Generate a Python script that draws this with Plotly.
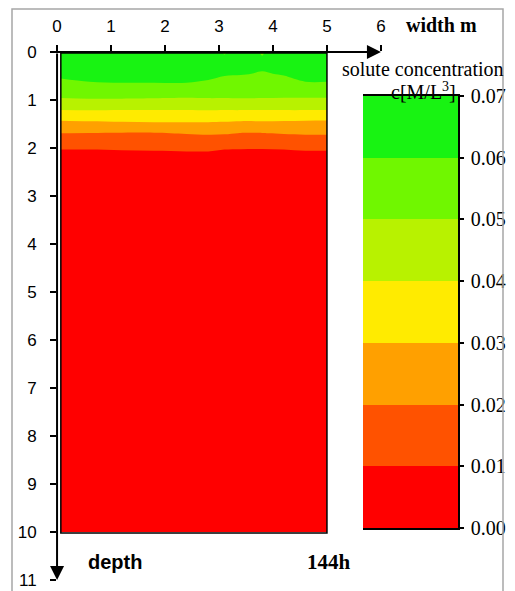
import plotly.graph_objects as go

# the page puts the figure 8px from the window's top-left corner
OFF = 8
W, H = 515 - OFF, 591 - OFF

# ---------------- data ----------------
width_ticks = [0, 1, 2, 3, 4, 5, 6]
depth_ticks = [0, 1, 2, 3, 4, 5, 6, 7, 8, 9, 10, 11]

# sampling positions of the concentration field (m)
xs = [0.07, 0.6, 1.2, 1.8, 2.4, 2.8, 3.1, 3.4, 3.8, 4.2, 4.6, 5.0]
ds = [0.02, 0.25, 0.45, 0.65, 0.96, 1.21, 1.44, 1.69, 2.03, 3.0, 10.0]

# solute concentration c [M/L^3] at 144h, rows = depths, cols = widths
conc = [
    [0.0640, 0.0660, 0.0660, 0.0660, 0.0660, 0.0650, 0.0595, 0.0640, 0.0595, 0.0650, 0.0660, 0.0660],
    [0.0640, 0.0650, 0.0650, 0.0650, 0.0650, 0.0640, 0.0630, 0.0625, 0.0615, 0.0630, 0.0640, 0.0640],
    [0.0615, 0.0625, 0.0630, 0.0630, 0.0630, 0.0620, 0.0605, 0.0605, 0.0595, 0.0605, 0.0625, 0.0625],
    [0.0585, 0.0595, 0.0598, 0.0598, 0.0598, 0.0590, 0.0585, 0.0570, 0.0560, 0.0580, 0.0595, 0.0595],
    [0.0500, 0.0505, 0.0505, 0.0502, 0.0498, 0.0500, 0.0500, 0.0502, 0.0500, 0.0498, 0.0497, 0.0497],
    [0.0400, 0.0402, 0.0400, 0.0398, 0.0400, 0.0402, 0.0400, 0.0400, 0.0398, 0.0400, 0.0400, 0.0398],
    [0.0295, 0.0300, 0.0305, 0.0310, 0.0310, 0.0308, 0.0305, 0.0300, 0.0300, 0.0298, 0.0295, 0.0295],
    [0.0200, 0.0198, 0.0196, 0.0195, 0.0205, 0.0210, 0.0208, 0.0198, 0.0198, 0.0205, 0.0210, 0.0210],
    [0.0100, 0.0100, 0.0101, 0.0102, 0.0103, 0.0103, 0.0100, 0.0098, 0.0097, 0.0100, 0.0102, 0.0102],
    [0.0030, 0.0030, 0.0030, 0.0030, 0.0030, 0.0030, 0.0030, 0.0030, 0.0030, 0.0030, 0.0030, 0.0030],
    [0.0005, 0.0005, 0.0005, 0.0005, 0.0005, 0.0005, 0.0005, 0.0005, 0.0005, 0.0005, 0.0005, 0.0005],
]

levels = [0.00, 0.01, 0.02, 0.03, 0.04, 0.05, 0.06, 0.07]
level_labels = ["0.00", "0.01", "0.02", "0.03", "0.04", "0.05", "0.06", "0.07"]
band_colors = ["#FF0000", "#FF5200", "#FFA000", "#FFEB00", "#B8F200", "#70F700", "#18F312"]

# ---------------- helpers ----------------
def px(p):
    return (p - OFF) / W


def py(p):
    return 1 - (p - OFF) / H


zmin, zmax = levels[0], levels[-1]
n = len(band_colors)
colorscale = []
for i, c in enumerate(band_colors):
    colorscale.append([i / n, c])
    colorscale.append([(i + 1) / n, c])

SANS = "Liberation Sans, Arial, sans-serif"
SERIF = "Liberation Serif, Times New Roman, serif"

fig = go.Figure()

fig.add_trace(go.Contour(
    x=xs, y=ds, z=conc,
    colorscale=colorscale, zmin=zmin, zmax=zmax, zauto=False,
    contours=dict(start=levels[1], end=levels[-2], size=levels[1] - levels[0],
                  coloring="fill", showlines=False),
    line=dict(width=0, smoothing=1),
    showscale=False, hoverinfo="skip",
    xaxis="x", yaxis="y",
))

# colour legend bar drawn as a one-column heatmap
mids = [[(levels[i] + levels[i + 1]) / 2] for i in range(len(levels) - 1)]
fig.add_trace(go.Heatmap(
    x=[0, 1], y=levels, z=mids,
    colorscale=colorscale, zmin=zmin, zmax=zmax,
    showscale=False, hoverinfo="skip",
    xaxis="x2", yaxis="y2",
))

fig.update_layout(
    width=W, height=H,
    margin=dict(l=0, r=0, t=0, b=0, autoexpand=False),
    paper_bgcolor="white", plot_bgcolor="rgba(0,0,0,0)",
    showlegend=False,
    xaxis=dict(
        domain=[px(57), px(381)], range=[-0.001, 6.001], side="top",
        tickvals=width_ticks, ticktext=[str(v) for v in width_ticks],
        ticks="outside", ticklen=6, tickwidth=1.5, tickcolor="black",
        showgrid=False, zeroline=False, showline=False, automargin=False,
        tickfont=dict(family=SANS, size=17, color="black"),
        ticklabelstandoff=6, anchor="y", fixedrange=True,
    ),
    yaxis=dict(
        domain=[py(580), py(52)], range=[11.001, -0.001],
        tickvals=depth_ticks, ticktext=[str(v) for v in depth_ticks],
        ticks="outside", ticklen=6, tickwidth=1.5, tickcolor="black",
        showgrid=False, zeroline=False, showline=False, automargin=False,
        tickfont=dict(family=SANS, size=17, color="black"),
        ticklabelstandoff=10, anchor="x", fixedrange=True,
    ),
    xaxis2=dict(
        domain=[px(363), px(458)], range=[0, 1], anchor="y2",
        showticklabels=False, ticks="", showgrid=False, zeroline=False,
        showline=True, mirror=True, linecolor="black", linewidth=1.5,
        automargin=False, fixedrange=True,
    ),
    yaxis2=dict(
        domain=[py(528), py(96)], range=[levels[0], levels[-1]], anchor="x2",
        side="right", tickvals=levels, ticktext=level_labels,
        ticks="outside", ticklen=4, tickwidth=1.5, tickcolor="black",
        showline=True, linecolor="black", linewidth=1.5,
        showgrid=False, zeroline=False, automargin=False,
        tickfont=dict(family=SERIF, size=20, color="black"),
        ticklabelstandoff=3, fixedrange=True,
    ),
)

shapes = [
    # outer grey frame
    dict(type="rect", xref="paper", yref="paper", x0=px(12), x1=px(503), y0=-0.05, y1=py(9),
         line=dict(color="#A6A6A6", width=1.5), fillcolor="rgba(0,0,0,0)", layer="above"),
    # black border of the field
    dict(type="rect", xref="x", yref="y", x0=xs[0], x1=xs[-1], y0=ds[0], y1=10.02,
         line=dict(color="black", width=1.5), fillcolor="rgba(0,0,0,0)", layer="above"),
]
fig.update_layout(shapes=shapes)

annotations = [
    # axis arrows
    dict(x=6, y=0, xref="x", yref="y", ax=-0.13, ay=0, axref="x", ayref="y",
         text="", showarrow=True, arrowhead=2, arrowsize=1.4, arrowwidth=2, arrowcolor="black"),
    dict(x=0, y=11, xref="x", yref="y", ax=0, ay=0, axref="x", ayref="y",
         text="", showarrow=True, arrowhead=2, arrowsize=1.4, arrowwidth=2, arrowcolor="black"),
    # texts
    dict(x=px(441), y=py(25), xref="paper", yref="paper", text="<b>width m</b>", showarrow=False,
         xanchor="center", yanchor="middle", font=dict(family=SERIF, size=20, color="black")),
    dict(x=px(340), y=py(69), xref="paper", yref="paper", text="solute concentration", showarrow=False,
         xanchor="left", yanchor="middle", font=dict(family=SERIF, size=20, color="black")),
    dict(x=px(458), y=py(91), xref="paper", yref="paper", text="c[M/L<sup>3</sup>]", showarrow=False,
         xanchor="right", yanchor="middle", font=dict(family=SERIF, size=20, color="black")),
    dict(x=px(115), y=py(562), xref="paper", yref="paper", text="<b>depth</b>", showarrow=False,
         xanchor="center", yanchor="middle", font=dict(family=SANS, size=20, color="black")),
    dict(x=px(329), y=py(562), xref="paper", yref="paper", text="<b>144h</b>", showarrow=False,
         xanchor="center", yanchor="middle", font=dict(family=SERIF, size=21, color="black")),
]
fig.update_layout(annotations=annotations)

fig.write_html("out.html")
